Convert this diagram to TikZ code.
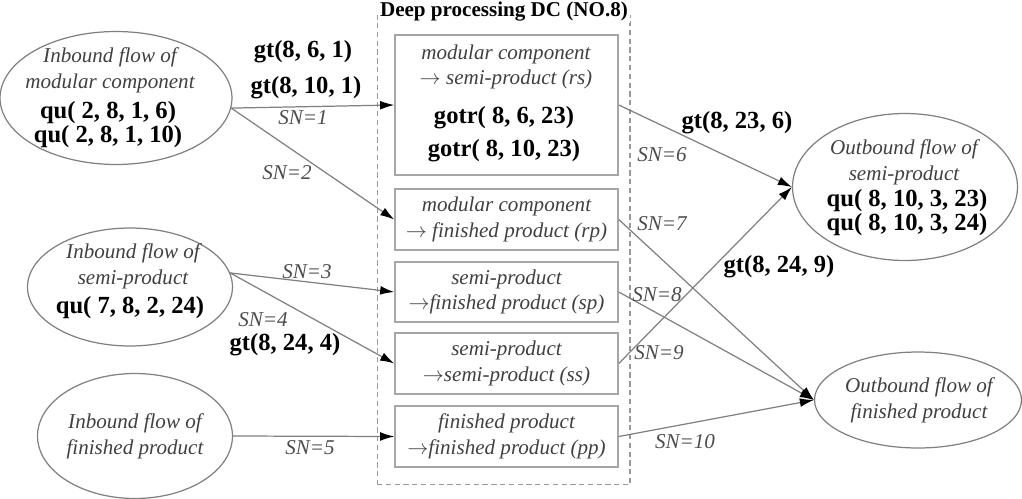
\documentclass[tikz,border=0pt]{standalone}
\usepackage{fontspec}
\setmainfont{Liberation Serif}
\usetikzlibrary{arrows.meta,positioning,shapes.geometric}

\begin{document}
\begin{tikzpicture}[
    x=0.02cm, y=-0.02cm,
    flow/.style={ellipse, draw=black!50, line width=0.7pt, inner sep=0pt},
    proc/.style={rectangle, draw=black!35, line width=0.9pt, minimum width=4.46cm, inner sep=0pt, align=center, font=\fontsize{12}{14.5}\selectfont\itshape, text=black!75},
    txt/.style={font=\fontsize{12}{14.7}\selectfont\itshape, text=black!75, align=center, inner sep=0pt},
    qty/.style={font=\fontsize{14}{13.6}\selectfont\bfseries, align=center, inner sep=0pt},
    sn/.style={font=\fontsize{12}{14}\selectfont\itshape, text=black!70, inner sep=0pt},
    conn/.style={-{Latex[length=8pt,width=5pt,color=black]}, draw=black!50, line width=0.7pt},
    dcbox/.style={draw=black!40, densely dashed, line width=0.6pt}
]
\useasboundingbox (0,0) rectangle (1022,498);

% Deep processing DC
\node[dcbox, minimum width=5.06cm, minimum height=9.4cm] (dc) at (503.5,250) {};
\node[font=\fontsize{12}{12}\selectfont\bfseries, fill=white, inner sep=1pt] (dctitle) at (504,12) {Deep processing DC (NO.8)};

% Inbound flows (left)
\node[flow, minimum width=4.64cm, minimum height=2.66cm] (inmod) at (116,98) {};
\node[txt] (inmodtxt) at (110,70) {Inbound flow of\\modular component};
\node[qty] (inmodqu) at (108,125) {qu( 2, 8, 1, 6)\\qu( 2, 8, 1, 10)};

\node[flow, minimum width=4.1cm, minimum height=2.36cm] (insemi) at (130,287) {};
\node[txt] (insemitxt) at (133,266) {Inbound flow of\\semi-product};
\node[qty] (insemiqu) at (130,308) {qu( 7, 8, 2, 24)};

\node[flow, minimum width=3.9cm, minimum height=2.5cm] (infin) at (135,436) {};
\node[txt] (infintxt) at (135,436) {Inbound flow of\\finished product};

% Processing modes
\node[proc, minimum height=2.8cm] (rs) at (506.5,105) {};
\node[txt] (rstxt) at (506,67) {modular component\\$\rightarrow$ semi-product (rs)};
\node[qty, font=\fontsize{14}{18.7}\selectfont\bfseries] (rsqu) at (504,134) {gotr( 8, 6, 23)\\gotr( 8, 10, 23)};
\node[proc, minimum height=1.22cm] (rp) at (506.5,219.5) {modular component\\$\rightarrow$ finished product (rp)};
\node[proc, minimum height=1.2cm]  (sp) at (506.5,292) {semi-product\\$\rightarrow$finished product (sp)};
\node[proc, minimum height=1.22cm] (ss) at (506.5,363.5) {semi-product\\$\rightarrow$semi-product (ss)};
\node[proc, minimum height=1.22cm] (pp) at (506.5,436.5) {finished product\\$\rightarrow$finished product (pp)};

% Outbound flows (right)
\node[flow, minimum width=4.5cm, minimum height=2.94cm] (outsemi) at (905,187) {};
\node[txt] (outsemitxt) at (904,162) {Outbound flow of\\semi-product};
\node[qty] (outsemiqu) at (907,213) {qu( 8, 10, 3, 23)\\qu( 8, 10, 3, 24)};

\node[flow, minimum width=4.14cm, minimum height=1.92cm] (outfin) at (918,400) {};
\node[txt] (outfintxt) at (919,400) {Outbound flow of\\finished product};

% Connections
\draw[conn] (inmod.-5) -- (rs.west);
\draw[conn] (inmod.-5) -- (rp.west);
\draw[conn] (insemi.8) -- (sp.west);
\draw[conn] (insemi.8) -- (ss.west);
\draw[conn] (infin.east) -- (pp.west);
\draw[conn] (rs.east) -- (outsemi.west);
\draw[conn] (rp.east) -- (outfin.west);
\draw[conn] (sp.east) -- (outfin.west);
\draw[conn] (ss.east) -- (outsemi.west);
\draw[conn] (pp.east) -- (outfin.west);

% Flow labels
\node[qty] (gt861)  at (303,52)  {gt(8, 6, 1)};
\node[qty] (gt8101) at (306,88)  {gt(8, 10, 1)};
\node[sn]  (sn1)    at (303,118) {SN=1};
\node[sn]  (sn2)    at (287,173) {SN=2};
\node[sn]  (sn3)    at (307,272) {SN=3};
\node[sn]  (sn4)    at (263,320) {SN=4};
\node[qty] (gt8244) at (285,345) {gt(8, 24, 4)};
\node[sn]  (sn5)    at (310,448) {SN=5};
\node[sn]  (sn6)    at (662,155) {SN=6};
\node[qty] (gt8236) at (737,123) {gt(8, 23, 6)};
\node[sn]  (sn7)    at (662,224) {SN=7};
\node[sn]  (sn8)    at (657,295) {SN=8};
\node[sn]  (sn9)    at (659,353) {SN=9};
\node[qty] (gt8249) at (779,267) {gt(8, 24, 9)};
\node[sn]  (sn10)   at (685,442) {SN=10};
\end{tikzpicture}
\end{document}
